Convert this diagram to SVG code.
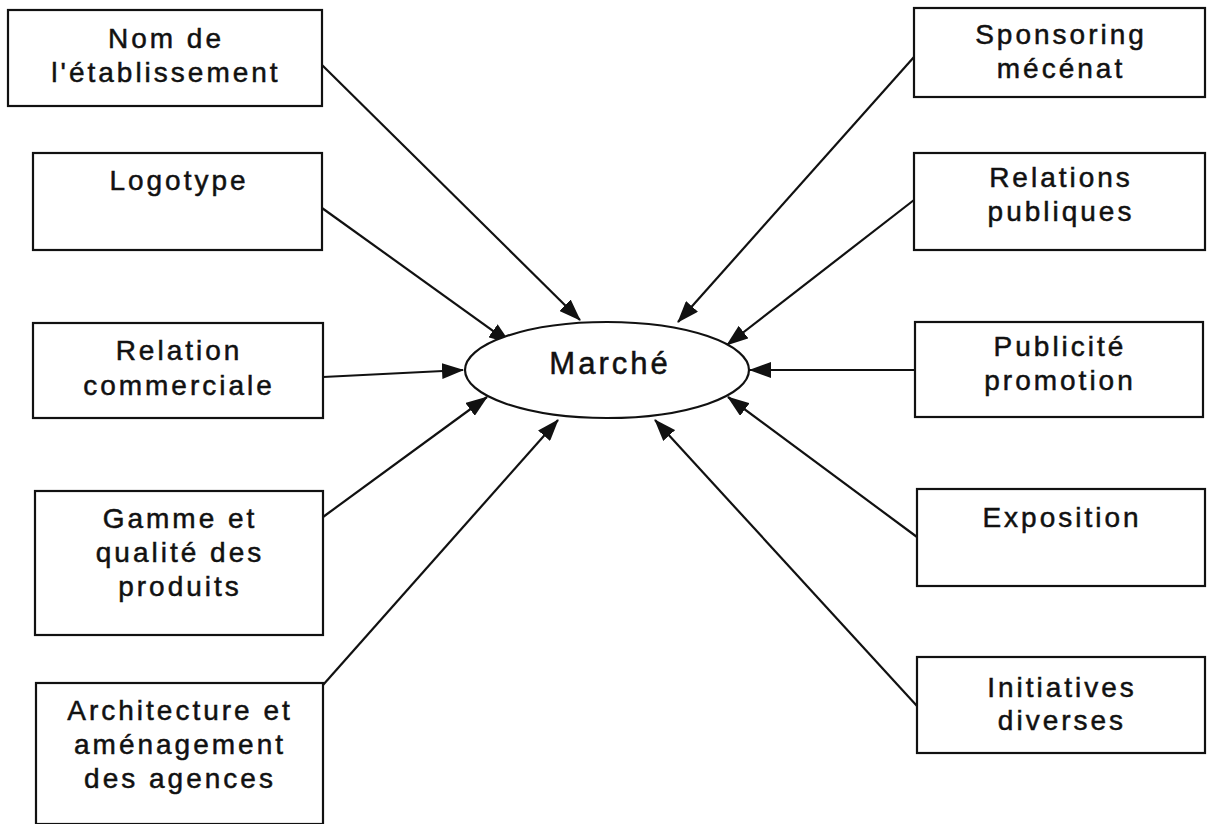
<svg xmlns="http://www.w3.org/2000/svg" width="1213" height="824" viewBox="0 0 1213 824">
<style>
.box{fill:#fff;stroke:#111;stroke-width:2.2}
.lbl{font-family:"Liberation Sans",Arial,sans-serif;font-size:28px;letter-spacing:3px;fill:#111;stroke:#111;stroke-width:0.5;text-anchor:middle}
.big{font-size:31px;letter-spacing:3px}
.con{stroke:#111;stroke-width:2.2;fill:none;marker-end:url(#ah)}
</style>
<defs>
<marker id="ah" markerUnits="userSpaceOnUse" markerWidth="22" markerHeight="16" refX="21" refY="8" orient="auto">
<path d="M0,0 L22,8 L0,16 z" fill="#111"/>
</marker>
</defs>
<rect width="1213" height="824" fill="#fff"/>
<g id="connectors">
<line class="con" x1="322" y1="65" x2="580" y2="320"/>
<line class="con" x1="322" y1="208" x2="510" y2="343"/>
<line class="con" x1="323" y1="377" x2="463" y2="370"/>
<line class="con" x1="323" y1="517" x2="487" y2="397"/>
<line class="con" x1="323" y1="685" x2="558" y2="420"/>
<line class="con" x1="914" y1="57" x2="678" y2="322"/>
<line class="con" x1="914" y1="200" x2="727" y2="345"/>
<line class="con" x1="915" y1="370" x2="750" y2="370"/>
<line class="con" x1="917" y1="537" x2="728" y2="397"/>
<line class="con" x1="917" y1="706" x2="655" y2="420"/>
</g>
<g id="marche">
<ellipse class="box" cx="607" cy="370" rx="142" ry="48"/>
<text class="lbl big" x="610" y="374">Marché</text>
</g>
<g id="nom">
<rect class="box" x="8" y="10" width="314" height="96"/>
<text class="lbl" x="166" y="48">Nom de</text>
<text class="lbl" x="166" y="82">l'établissement</text>
</g>
<g id="logotype">
<rect class="box" x="33" y="153" width="289" height="97"/>
<text class="lbl" x="179" y="190">Logotype</text>
</g>
<g id="relation">
<rect class="box" x="33" y="323" width="290" height="95"/>
<text class="lbl" x="179" y="360">Relation</text>
<text class="lbl" x="179" y="395">commerciale</text>
</g>
<g id="gamme">
<rect class="box" x="35" y="491" width="288" height="144"/>
<text class="lbl" x="180" y="528">Gamme et</text>
<text class="lbl" x="180" y="562">qualité des</text>
<text class="lbl" x="180" y="596">produits</text>
</g>
<g id="architecture">
<rect class="box" x="36" y="683" width="287" height="141"/>
<text class="lbl" x="180" y="720">Architecture et</text>
<text class="lbl" x="180" y="754">aménagement</text>
<text class="lbl" x="180" y="788">des agences</text>
</g>
<g id="sponsoring">
<rect class="box" x="914" y="8" width="291" height="89"/>
<text class="lbl" x="1061" y="44">Sponsoring</text>
<text class="lbl" x="1061" y="78">mécénat</text>
</g>
<g id="relations">
<rect class="box" x="914" y="153" width="291" height="97"/>
<text class="lbl" x="1061" y="187">Relations</text>
<text class="lbl" x="1061" y="221">publiques</text>
</g>
<g id="publicite">
<rect class="box" x="915" y="322" width="288" height="95"/>
<text class="lbl" x="1060" y="356">Publicité</text>
<text class="lbl" x="1060" y="390">promotion</text>
</g>
<g id="exposition">
<rect class="box" x="917" y="489" width="288" height="97"/>
<text class="lbl" x="1062" y="527">Exposition</text>
</g>
<g id="initiatives">
<rect class="box" x="917" y="657" width="288" height="96"/>
<text class="lbl" x="1062" y="697">Initiatives</text>
<text class="lbl" x="1062" y="730">diverses</text>
</g>
</svg>
